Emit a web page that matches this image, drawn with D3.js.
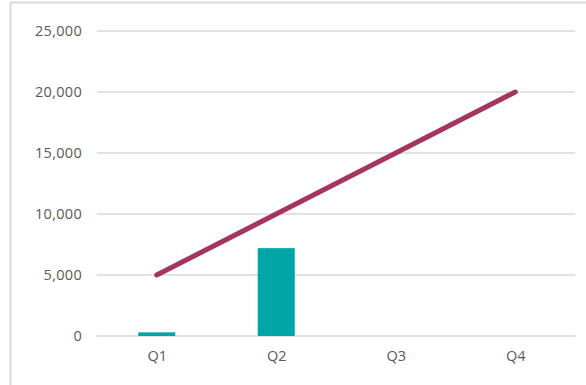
<!DOCTYPE html>
<html>
<head>
<meta charset="utf-8">
<script src="https://cdn.jsdelivr.net/npm/d3@7"></script>
<style>
  body { margin: 0; background: #fff; }
  svg { display: block; }
</style>
</head>
<body>
<div id="chart"></div>
<script>
// Quarterly bars + trend line
const categories = ['Q1', 'Q2', 'Q3', 'Q4'];
const barValues = [300, 7200, 0, 0];
const lineValues = [5000, 10000, 15000, 20000];
const yTicks = [0, 5000, 10000, 15000, 20000, 25000];

const width = 586, height = 385;
const margin = { top: 31, right: 11, bottom: 49, left: 97 };
const innerW = width - margin.left - margin.right;
const innerH = height - margin.top - margin.bottom;

const svg = d3.select('#chart')
    .append('svg')
    .attr('width', width)
    .attr('height', height);

// chart frame
svg.append('rect')
    .attr('x', 10.5)
    .attr('y', 2.5)
    .attr('width', width + 20)
    .attr('height', height + 20)
    .attr('fill', 'none')
    .attr('stroke', '#d9d9d9')
    .attr('stroke-width', 2);

const g = svg.append('g')
    .attr('transform', `translate(${margin.left},${margin.top})`);

const x = d3.scaleBand()
    .domain(categories)
    .range([0, innerW])
    .paddingInner(0.69)
    .paddingOuter(0.345);

const xPoint = d3.scalePoint()
    .domain(categories)
    .range([0, innerW])
    .padding(0.5);

const y = d3.scaleLinear()
    .domain([0, 25000])
    .range([innerH, 0]);

// gridlines
g.append('g')
    .selectAll('line')
    .data(yTicks)
    .enter()
    .append('line')
    .attr('x1', 0)
    .attr('x2', innerW)
    .attr('y1', d => y(d))
    .attr('y2', d => y(d))
    .attr('stroke', '#d9d9d9')
    .attr('stroke-width', 1.5);

// y axis labels
const yAxis = g.append('g')
    .call(d3.axisLeft(y).tickValues(yTicks).tickSize(0).tickPadding(15).tickFormat(d3.format(',')));
yAxis.select('.domain').remove();
yAxis.selectAll('text')
    .attr('font-family', 'Open Sans, sans-serif')
    .attr('font-size', '14.5px')
    .attr('letter-spacing', '0.3px')
    .attr('fill', '#595959');

// x axis labels
const xAxis = g.append('g')
    .attr('transform', `translate(0,${innerH})`)
    .call(d3.axisBottom(xPoint).tickSize(0).tickPadding(15));
xAxis.select('.domain').remove();
xAxis.selectAll('text')
    .attr('font-family', 'Open Sans, sans-serif')
    .attr('font-size', '14.5px')
    .attr('fill', '#595959');

// bars
g.append('g')
    .selectAll('rect')
    .data(categories.map((c, i) => ({ c, v: barValues[i] })))
    .enter()
    .append('rect')
    .attr('x', d => x(d.c))
    .attr('y', d => y(d.v))
    .attr('width', x.bandwidth())
    .attr('height', d => y(0) - y(d.v))
    .attr('fill', '#00a5a5');

// line
const line = d3.line()
    .x((d, i) => xPoint(categories[i]))
    .y(d => y(d));

g.append('path')
    .datum(lineValues)
    .attr('d', line)
    .attr('fill', 'none')
    .attr('stroke', '#a5345f')
    .attr('stroke-width', 5)
    .attr('stroke-linecap', 'round');
</script>
</body>
</html>
